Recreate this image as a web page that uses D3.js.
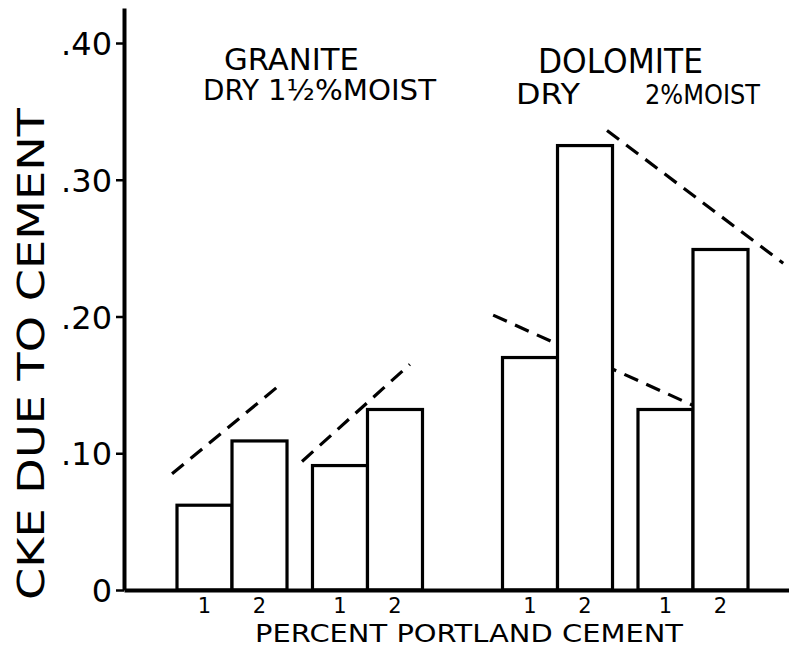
<!DOCTYPE html>
<html>
<head>
<meta charset="utf-8">
<script src="https://cdn.jsdelivr.net/npm/d3@7"></script>
<style>
  body { margin: 0; background: #fff; }
  text { font-family: "DejaVu Sans", sans-serif; fill: #000; }
</style>
</head>
<body>
<div id="viz_1"></div>
<script>
// data
var materials = ["GRANITE", "DOLOMITE"];
var conditions = ["dry", "moist"];
var cementPct = ["1", "2"];
var conditionLabels = { GRANITE: ["DRY", "1½%MOIST"], DOLOMITE: ["DRY", "2%MOIST"] };

// bar values, order: material > condition > cement pct
var granite = [0.062, 0.109, 0.091, 0.132];
var dolomite = [0.170, 0.325, 0.132, 0.249];

var yTicks = [0, 0.10, 0.20, 0.30, 0.40];
var yTickLabels = ["0", ".10", ".20", ".30", ".40"];

// dashed trend lines: [material, condition, cement pct position, value]
var trendLines = [
    [["GRANITE", "dry", 0.41, 0.085], ["GRANITE", "dry", 2.34, 0.149]],
    [["GRANITE", "moist", 0.31, 0.094], ["GRANITE", "moist", 2.27, 0.165]],
    [["DOLOMITE", "dry", 0.33, 0.201], ["DOLOMITE", "moist", 1.50, 0.135]],
    [["DOLOMITE", "dry", 2.40, 0.336], ["DOLOMITE", "moist", 3.14, 0.239]]
];

var bars = [];
[granite, dolomite].forEach(function (vals, m) {
    vals.forEach(function (v, i) {
        bars.push({
            material: materials[m],
            condition: conditions[Math.floor(i / 2)],
            pct: cementPct[i % 2],
            value: v
        });
    });
});

var W = 789, H = 652;
var svg1 = d3.select("#viz_1")
    .append("svg")
    .attr("width", W)
    .attr("height", H);

var x0Axis = 124, yBase = 590;

// nested band scales: material > condition > pct
var x0 = d3.scaleBand().domain(materials).range([177, 748]).paddingInner(0.2458);
var x1 = d3.scaleBand().domain(conditions).range([0, x0.bandwidth()]).paddingInner(0.188);
var x2 = d3.scaleBand().domain(cementPct).range([0, x1.bandwidth()]);

function xPos(mat, cond, p) {
    return x0(mat) + x1(cond) + x2.bandwidth() * (p - 0.5);
}

var y = d3.scaleLinear()
    .domain([0, 0.4256])
    .range([yBase, 8]);

// dashed lines go under the bars
svg1.selectAll(".trend")
    .data(trendLines)
    .enter()
    .append("line")
    .attr("class", "trend")
    .attr("x1", function (d) { return xPos(d[0][0], d[0][1], d[0][2]) })
    .attr("y1", function (d) { return y(d[0][3]) })
    .attr("x2", function (d) { return xPos(d[1][0], d[1][1], d[1][2]) })
    .attr("y2", function (d) { return y(d[1][3]) })
    .attr("stroke", "#000")
    .attr("stroke-width", 3.2)
    .attr("stroke-dasharray", "15,9");

// bars
svg1.selectAll(".bar")
    .data(bars)
    .enter()
    .append("rect")
    .attr("class", "bar")
    .attr("x", function (d) { return x0(d.material) + x1(d.condition) + x2(d.pct) })
    .attr("y", function (d) { return y(d.value) })
    .attr("width", x2.bandwidth())
    .attr("height", function (d) { return yBase - y(d.value) })
    .attr("fill", "#fff")
    .attr("stroke", "#000")
    .attr("stroke-width", 3.2);

// Y axis
var yAxis = svg1.append("g")
    .attr("transform", "translate(" + x0Axis + ",0)")
    .call(d3.axisLeft(y)
        .tickValues(yTicks)
        .tickSize(8)
        .tickSizeOuter(0)
        .tickPadding(4)
        .tickFormat(function (d, i) { return yTickLabels[i] }));
yAxis.select(".domain").attr("stroke-width", 4);
yAxis.selectAll(".tick line").attr("stroke-width", 2.5);
yAxis.selectAll(".tick text")
    .style("font-size", "32px")
    .style("font-family", "DejaVu Sans")
    .attr("dy", "0.36em");

// X axis baseline
var xLine = d3.scaleLinear().domain([0, 1]).range([x0Axis, W + 5]);
var xAxis = svg1.append("g")
    .attr("transform", "translate(0," + yBase + ")")
    .call(d3.axisBottom(xLine).tickValues([]).tickSizeOuter(0));
xAxis.select(".domain").attr("stroke-width", 4);

// cement pct tick labels under each bar
svg1.selectAll(".pctlabel")
    .data(bars)
    .enter()
    .append("text")
    .attr("class", "pctlabel")
    .attr("text-anchor", "middle")
    .attr("x", function (d) { return x0(d.material) + x1(d.condition) + x2(d.pct) + x2.bandwidth() / 2 })
    .attr("y", 613)
    .style("font-size", "21px")
    .text(function (d) { return d.pct });

// X axis label
svg1.append("text")
    .attr("x", 255)
    .attr("y", 642)
    .attr("textLength", 428)
    .attr("lengthAdjust", "spacingAndGlyphs")
    .style("font-size", "24px")
    .text("PERCENT PORTLAND CEMENT");

// Y axis label
svg1.append("text")
    .attr("transform", "translate(44,600) rotate(-90)")
    .attr("textLength", 492)
    .attr("lengthAdjust", "spacingAndGlyphs")
    .style("font-size", "38px")
    .text("CKE DUE TO CEMENT");

// material titles
svg1.append("text")
    .attr("x", 224).attr("y", 70)
    .attr("textLength", 135).attr("lengthAdjust", "spacingAndGlyphs")
    .style("font-size", "30px")
    .text(materials[0]);
svg1.append("text")
    .attr("x", 538).attr("y", 73)
    .attr("textLength", 165).attr("lengthAdjust", "spacingAndGlyphs")
    .style("font-size", "33px")
    .text(materials[1]);

// condition labels
svg1.append("text")
    .attr("x", 203).attr("y", 100)
    .attr("textLength", 56).attr("lengthAdjust", "spacingAndGlyphs")
    .style("font-size", "28px")
    .text(conditionLabels.GRANITE[0]);
svg1.append("text")
    .attr("x", 268).attr("y", 100)
    .attr("textLength", 168).attr("lengthAdjust", "spacingAndGlyphs")
    .style("font-size", "28px")
    .text(conditionLabels.GRANITE[1]);
svg1.append("text")
    .attr("x", 516).attr("y", 104)
    .attr("textLength", 64).attr("lengthAdjust", "spacingAndGlyphs")
    .style("font-size", "28px")
    .text(conditionLabels.DOLOMITE[0]);
svg1.append("text")
    .attr("x", 645).attr("y", 104)
    .attr("textLength", 115).attr("lengthAdjust", "spacingAndGlyphs")
    .style("font-size", "26px")
    .text(conditionLabels.DOLOMITE[1]);
</script>
</body>
</html>
